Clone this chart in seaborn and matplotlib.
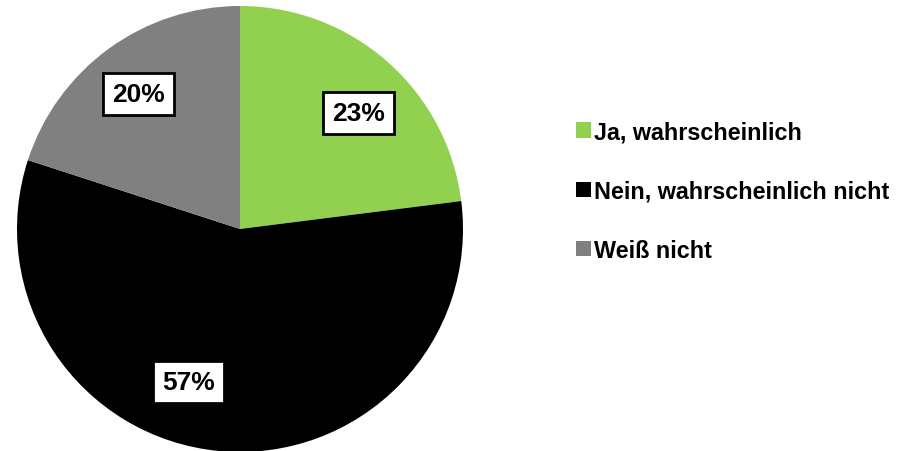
# Pie chart - Umfrage "Ja / Nein / Weiß nicht"

import matplotlib
matplotlib.use('Agg')
import matplotlib.pyplot as plt
import seaborn as sns

# data
categories = ['Ja, wahrscheinlich', 'Nein, wahrscheinlich nicht', 'Weiß nicht']
shares = [23, 57, 20]
colors = ['#92D050', '#000000', '#808080']

sns.set_theme(style='white')
plt.rcParams['font.family'] = ['Liberation Sans', 'DejaVu Sans']

fig = plt.figure(figsize=(9.05, 4.52), dpi=100)

# pie axes: centre ~ (240, 230) px, radius ~223 px
r_px = 223
ax = fig.add_axes([(240 - r_px) / 905, (222 - r_px) / 452, 2 * r_px / 905, 2 * r_px / 452])

wedges, texts, autotexts = ax.pie(
    shares,
    colors=colors,
    startangle=90,
    counterclock=False,
    autopct=lambda p: f'{p:.0f}%',
    pctdistance=0.76,
    wedgeprops=dict(linewidth=0),
    textprops=dict(fontsize=19, fontweight='bold', color='black'),
)
ax.set_xlim(-1, 1)
ax.set_ylim(-1, 1)
ax.set_aspect('equal')
ax.axis('off')

# label boxes like excel data labels
for t in autotexts:
    t.set_bbox(dict(boxstyle='square,pad=0.35', facecolor='white', edgecolor='black', linewidth=2))

# nudge labels to where excel put them
nudges = [(0.03, -0.05), (-0.16, 0.07), (-0.01, -0.01)]
for t, (dx, dy) in zip(autotexts, nudges):
    x, y = t.get_position()
    t.set_position((x + dx, y + dy))

leg = fig.legend(
    wedges, categories,
    loc='center left',
    bbox_to_anchor=(564 / 905, (452 - 192) / 452),
    frameon=False,
    prop=dict(size=16.8, weight='bold'),
    handlelength=0.65,
    handleheight=0.65,
    handletextpad=0.15,
    labelspacing=1.55,
    borderpad=0,
)
for t in leg.get_texts():
    t.set_color('black')

fig.savefig('out.png', dpi=100)
plt.close()
